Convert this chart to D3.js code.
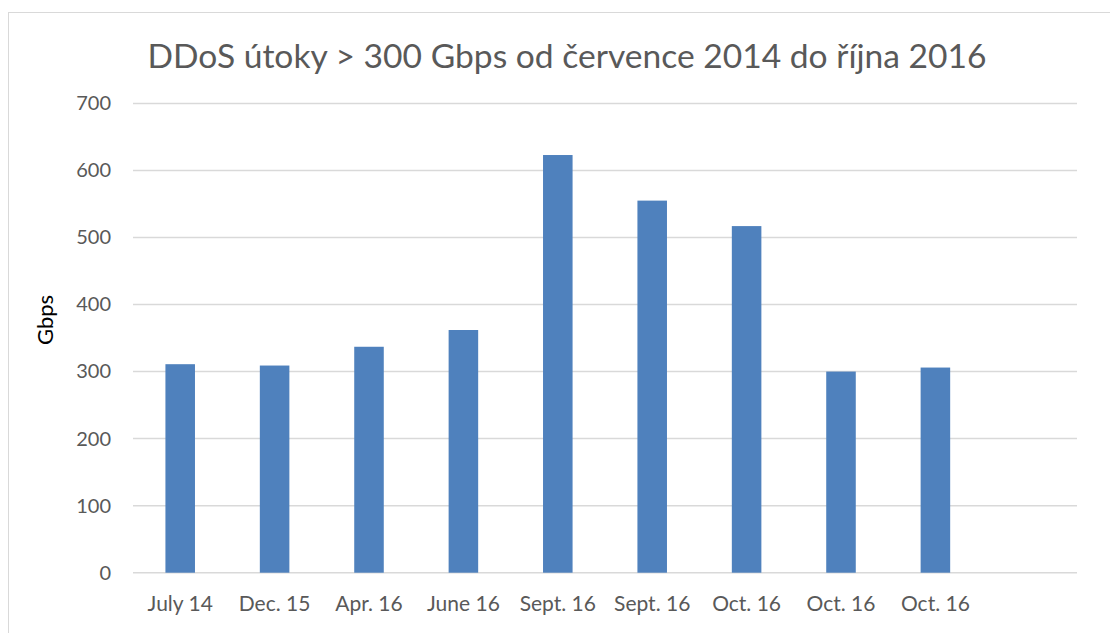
<!DOCTYPE html>
<html>
<head>
<meta charset="utf-8">
<script src="https://d3js.org/d3.v7.min.js"></script>
<style>
    body { margin: 0; background: #fff; }
    text { font-family: Lato, "Open Sans", sans-serif; }
</style>
</head>
<body>
<div id="chart"></div>
<script>
    // data
    var months = ["July 14", "Dec. 15", "Apr. 16", "June 16", "Sept. 16", "Sept. 16", "Oct. 16", "Oct. 16", "Oct. 16"];
    var gbps = [311, 309, 337, 362, 623, 555, 517, 300, 306];
    var yTicks = [0, 100, 200, 300, 400, 500, 600, 700];
    var title = "DDoS útoky > 300 Gbps od července 2014 do října 2016";

    var width = 1110, height = 633;
    var plotLeft = 133, plotRight = 1077, plotTop = 103.4, plotBottom = 572.7;

    var svg = d3.select("#chart").append("svg")
        .attr("width", width)
        .attr("height", height);

    // outer frame (runs off the right and bottom edge)
    svg.append("rect")
        .attr("x", 8.5).attr("y", 12.5)
        .attr("width", width + 20).attr("height", height + 20)
        .attr("fill", "none")
        .attr("stroke", "#d9d9d9")
        .attr("stroke-width", 1);

    // 10 slots, last one empty
    var slots = d3.range(10);
    var xScale = d3.scaleBand()
        .domain(slots)
        .range([plotLeft, plotRight])
        .paddingInner(0.687)
        .paddingOuter(0.3435);

    var yScale = d3.scaleLinear()
        .domain([0, 700])
        .range([plotBottom, plotTop]);

    // gridlines
    svg.append("g")
        .selectAll("line")
        .data(yTicks)
        .enter()
        .append("line")
        .attr("x1", plotLeft).attr("x2", plotRight)
        .attr("y1", function (d) { return yScale(d); })
        .attr("y2", function (d) { return yScale(d); })
        .attr("stroke", "#d9d9d9")
        .attr("stroke-width", 1.5);

    // y axis labels
    var yAxis = d3.axisLeft(yScale).tickValues(yTicks).tickSize(0).tickPadding(0);
    var gy = svg.append("g")
        .attr("transform", "translate(111,0)")
        .call(yAxis);
    gy.select(".domain").remove();
    gy.selectAll("text")
        .attr("fill", "#595959")
        .style("font-size", "20px")
        .attr("font-family", "Lato, sans-serif");

    // bars
    svg.append("g")
        .selectAll("rect")
        .data(gbps)
        .enter()
        .append("rect")
        .attr("x", function (d, i) { return xScale(i); })
        .attr("width", xScale.bandwidth())
        .attr("y", function (d) { return yScale(d); })
        .attr("height", function (d) { return plotBottom - yScale(d); })
        .attr("fill", "#4f81bd");

    // x labels
    svg.append("g")
        .selectAll("text")
        .data(months)
        .enter()
        .append("text")
        .attr("x", function (d, i) { return xScale(i) + xScale.bandwidth() / 2; })
        .attr("y", 611)
        .attr("text-anchor", "middle")
        .attr("fill", "#595959")
        .style("font-size", "21px")
        .text(function (d) { return d; });

    // y title
    svg.append("text")
        .attr("transform", "translate(53,320) rotate(-90)")
        .attr("text-anchor", "middle")
        .attr("fill", "#000")
        .style("font-size", "22px")
        .text("Gbps");

    // chart title
    svg.append("text")
        .attr("x", 567)
        .attr("y", 68)
        .attr("text-anchor", "middle")
        .attr("fill", "#595959")
        .style("font-size", "33.6px")
        .text(title);
</script>
</body>
</html>
